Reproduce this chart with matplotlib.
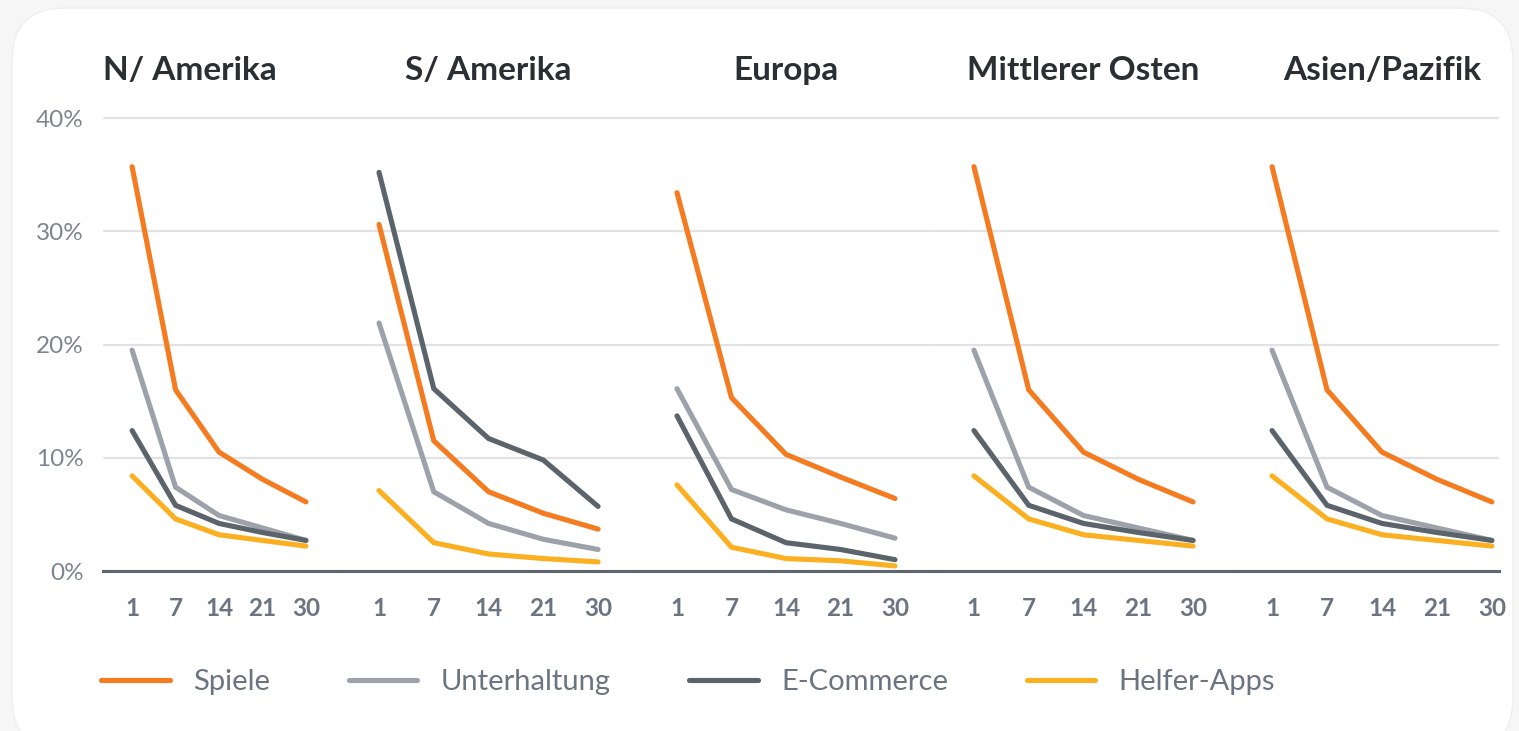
import matplotlib.pyplot as plt
from matplotlib.patches import FancyBboxPatch
from matplotlib.lines import Line2D

# data (retention in %)
days = ["1", "7", "14", "21", "30"]
regions = ["N/ Amerika", "S/ Amerika", "Europa", "Mittlerer Osten", "Asien/Pazifik"]
series = ["Spiele", "Unterhaltung", "E-Commerce", "Helfer-Apps"]

spiele = [
    [35.7, 16.0, 10.5, 8.1, 6.1],
    [30.6, 11.5, 7.0, 5.1, 3.7],
    [33.4, 15.3, 10.3, 8.3, 6.4],
    [35.7, 16.0, 10.5, 8.1, 6.1],
    [35.7, 16.0, 10.5, 8.1, 6.1],
]
unterhaltung = [
    [19.5, 7.4, 4.9, 3.8, 2.7],
    [21.9, 7.0, 4.2, 2.8, 1.9],
    [16.1, 7.2, 5.4, 4.2, 2.9],
    [19.5, 7.4, 4.9, 3.8, 2.7],
    [19.5, 7.4, 4.9, 3.8, 2.7],
]
ecommerce = [
    [12.4, 5.8, 4.2, 3.4, 2.7],
    [35.2, 16.1, 11.7, 9.8, 5.7],
    [13.7, 4.6, 2.5, 1.9, 1.0],
    [12.4, 5.8, 4.2, 3.4, 2.7],
    [12.4, 5.8, 4.2, 3.4, 2.7],
]
helfer = [
    [8.4, 4.6, 3.2, 2.7, 2.2],
    [7.1, 2.5, 1.5, 1.1, 0.8],
    [7.6, 2.1, 1.1, 0.9, 0.45],
    [8.4, 4.6, 3.2, 2.7, 2.2],
    [8.4, 4.6, 3.2, 2.7, 2.2],
]
colors = ["#f47b20", "#9da2aa", "#5b636b", "#fbb022"]

# layout: panel edges in pixels, and x-limits per panel
W, H = 1519, 731
edges = [103, 342, 637.5, 934.5, 1232.5, 1499]
xlims = [(-0.67, 4.83), (-0.676, 4.72), (-0.725, 4.725), (-0.72, 4.72), (-0.72, 4.13)]
y0_px, y1_px = 571, 106.7

plt.rcParams['font.family'] = ['Lato', 'DejaVu Sans']

fig = plt.figure(figsize=(W / 100, H / 100), dpi=100)
fig.patch.set_facecolor("#f6f6f6")
card = FancyBboxPatch((12 / W, 0 - 20 / H), (1513 - 12) / W, (H - 8 + 20) / H,
                      boxstyle="round,pad=0,rounding_size=0.035",
                      transform=fig.transFigure, facecolor="white", edgecolor="#efefef",
                      linewidth=1, mutation_aspect=W / H, zorder=-10)
fig.patches.append(card)

for i, region in enumerate(regions):
    left = edges[i] / W
    width = (edges[i + 1] - edges[i]) / W
    ax = fig.add_axes([left, (H - y0_px) / H, width, (y0_px - y1_px) / H])
    ax.set_facecolor("none")
    x = list(range(len(days)))
    for vals, c in zip([spiele[i], unterhaltung[i], ecommerce[i], helfer[i]], colors):
        ax.plot(x, vals, color=c, lw=3.7, solid_capstyle="round", solid_joinstyle="miter",
                clip_on=False, zorder=3)
    ax.set_xlim(*xlims[i])
    ax.set_ylim(0, 41)
    ax.set_yticks([0, 10, 20, 30, 40])
    ax.yaxis.grid(True, color="#e1e1e6", lw=1.6)
    ax.set_axisbelow(True)
    for s in ["top", "right", "left"]:
        ax.spines[s].set_visible(False)
    ax.spines["bottom"].set_color("#5f6670")
    ax.spines["bottom"].set_linewidth(2.2)
    ax.set_xticks(x)
    ax.set_xticklabels(days, fontsize=17.5, fontweight="bold", color="#6b7480")
    ax.tick_params(axis="x", length=0, pad=19)
    if i == 0:
        ax.set_yticklabels([f"{v}%" for v in [0, 10, 20, 30, 40]], fontsize=17.5,
                           color="#7d8590")
        ax.tick_params(axis="y", length=0, pad=14)
        ax.text(0, 1.078, region, transform=ax.transAxes, ha="left", va="center",
                fontsize=24, fontweight="bold", color="#2b2f33")
    else:
        ax.tick_params(axis="y", length=0, labelleft=False)
        ax.text(2, 1.078, region, transform=ax.get_xaxis_transform(), ha="center",
                va="center", fontsize=24, fontweight="bold", color="#2b2f33")

handles = [Line2D([], [], color=c, lw=3.7, solid_capstyle="round") for c in colors]
leg = fig.legend(handles, series, loc="center left", bbox_to_anchor=(101 / W, (H - 682) / H),
                 ncol=4, frameon=False, handlelength=2.35, handletextpad=0.8,
                 columnspacing=2.7, borderaxespad=0, borderpad=0,
                 prop={"size": 21})
for t in leg.get_texts():
    t.set_color("#6b7480")

fig.savefig("out.png", dpi=100, facecolor=fig.get_facecolor())
